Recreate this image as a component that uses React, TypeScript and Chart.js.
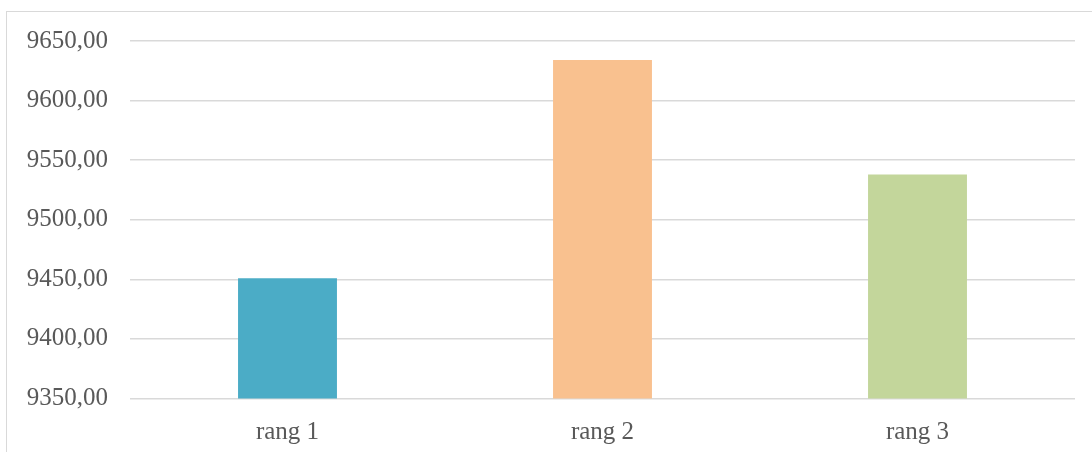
import React, { useEffect, useRef } from "react";
import { Chart, registerables } from "chart.js";

Chart.register(...registerables);

const categories: string[] = ["rang 1", "rang 2", "rang 3"];
const values: number[] = [9451, 9634, 9538];
const barColors: string[] = ["#4BACC6", "#F9C18F", "#C3D69B"];
const yMin = 9350;
const yMax = 9650;
const yStep = 50;

export default function App() {
  const ref = useRef<HTMLCanvasElement | null>(null);

  useEffect(() => {
    if (!ref.current) return;
    const font = { family: "'Liberation Serif', serif", size: 25 };
    const chart = new Chart(ref.current, {
      type: "bar",
      data: {
        labels: categories,
        datasets: [
          {
            data: values,
            backgroundColor: barColors,
            borderWidth: 0,
            barPercentage: 0.314,
            categoryPercentage: 1,
          },
        ],
      },
      options: {
        responsive: false,
        animation: false,
        layout: { padding: { left: 0, right: 17, top: 41, bottom: 0 } },
        plugins: { legend: { display: false }, tooltip: { enabled: false } },
        scales: {
          x: {
            grid: { display: false },
            border: { display: false },
            ticks: { color: "#595959", font, padding: 11 },
            afterFit: (s: any) => {
              s.height = 452 - 398.5;
            },
          },
          y: {
            min: yMin,
            max: yMax,
            grid: { color: "#d9d9d9", lineWidth: 1.5, drawTicks: false },
            border: { display: false },
            ticks: {
              stepSize: yStep,
              color: "#595959",
              font,
              padding: 22,
              callback: (v: any) => Number(v).toFixed(2).replace(".", ","),
            },
            afterFit: (s: any) => {
              s.width = 130;
            },
          },
        },
      },
    });
    return () => chart.destroy();
  }, []);

  return (
    <div
      style={{
        position: "fixed",
        left: 0,
        top: 0,
        width: 1092,
        height: 452,
        overflow: "hidden",
        background: "#fff",
      }}
    >
      <div
        style={{
          position: "absolute",
          left: 6,
          top: 11,
          width: 1200,
          height: 600,
          border: "1px solid #d9d9d9",
        }}
      />
      <canvas
        ref={ref}
        width={1092}
        height={452}
        style={{ position: "absolute", left: 0, top: 0, width: 1092, height: 452 }}
      />
    </div>
  );
}
